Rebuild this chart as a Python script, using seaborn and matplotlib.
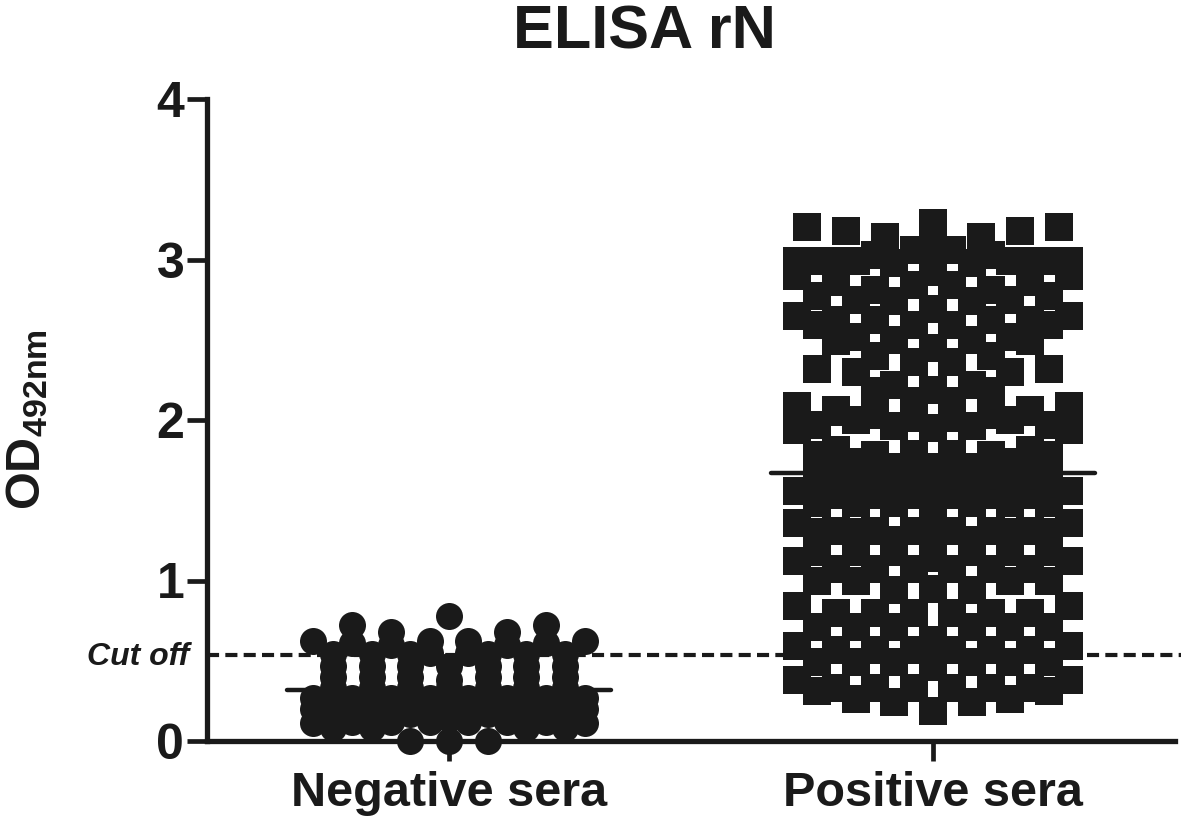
import matplotlib
matplotlib.use('AGG')
import matplotlib.pyplot as plt
import seaborn as sns
import numpy as np
import pandas as pd

groups = ['Negative sera', 'Positive sera']
cut_off = 0.535
group_means = [0.32, 1.67]

# each row lists values from the middle of the row outwards, mirrored when drawn
neg_rows_odd = [
    [0.78, 0.54, 0.54, 0.54],
    [0.47, 0.47, 0.47, 0.47],
    [0.38, 0.40, 0.40, 0.40],
    [0.33, 0.33, 0.33, 0.33],
    [0.26, 0.26, 0.26, 0.26],
    [0.14, 0.17, 0.17, 0.17],
    [0.00, 0.00, 0.08, 0.08],
]
neg_rows_even = [
    [0.62, 0.68, 0.72, 0.62],
    [0.55, 0.60, 0.61, np.nan],
    [0.27, 0.27, 0.27, 0.27],
    [0.20, 0.20, 0.20, 0.20],
    [0.12, 0.12, 0.12, 0.11],
]
pos_top_row = [3.23, 3.14, 3.18, 3.20]
pos_rows_odd = [
    [3.07, 2.98, 2.99, 2.99],
    [2.92, 2.74, 2.75, 2.77],
    [2.69, 2.50, 2.52, 2.59],
    [2.45, 2.22, 2.30, 2.32],
    [2.19, 1.96, 2.00, 1.97],
    [1.95, 1.71, 1.74, 1.78],
    [1.71, 1.66, 1.69, 1.69],
    [1.56, 1.58, 1.58, 1.58],
    [1.44, 1.48, 1.48, 1.48],
    [1.31, 1.25, 1.30, 1.30],
    [1.14, 1.18, 1.18, 1.18],
    [0.95, 0.94, 1.00, 1.00],
    [0.63, 0.71, 0.71, 0.71],
    [0.46, 0.49, 0.49, 0.49],
    [0.19, 0.24, 0.26, 0.31],
]
pos_rows_even = [
    [3.06, 3.03, 2.99, 2.99],
    [2.84, 2.81, 2.86, 2.90],
    [2.59, 2.62, 2.62, 2.65],
    [2.36, 2.40, 2.49, np.nan],
    [2.12, 2.18, 2.06, 2.09],
    [2.01, 2.03, 2.05, 1.94],
    [1.79, 1.78, 1.81, np.nan],
    [1.69, 1.69, 1.69, np.nan],
    [1.53, 1.53, 1.53, 1.56],
    [1.31, 1.31, 1.31, 1.36],
    [1.07, 1.07, 1.07, 1.12],
    [0.80, 0.80, 0.80, 0.84],
    [0.57, 0.57, 0.57, 0.59],
    [0.33, 0.33, 0.33, 0.38],
]

INK = '#1a1a1a'
STEP = 0.02  # sideways spread of one slot, in category units


def spread(rows, center, slots, group):
    out = []
    for row in rows:
        for val, slot in zip(row, slots):
            for sign in ([1] if slot == 0 else [-1, 1]):
                out.append({'group': group, 'x': center + sign * slot * STEP, 'od': val})
    return out


records = []
records += spread(neg_rows_odd, 0, [0, 4, 8, 12], groups[0])
records += spread(neg_rows_even, 0, [2, 6, 10, 14], groups[0])
records += spread([pos_top_row], 1, [0, 5, 9, 13], groups[1])
records += spread(pos_rows_odd, 1, [0, 4, 8, 12], groups[1])
records += spread(pos_rows_even, 1, [2, 6, 10, 14], groups[1])
df = pd.DataFrame(records).dropna()

sns.set_style('ticks')
plt.rcParams['font.family'] = ['Liberation Sans', 'DejaVu Sans']
plt.rcParams['mathtext.fontset'] = 'custom'
plt.rcParams['mathtext.bf'] = 'Liberation Sans:bold'
plt.rcParams['mathtext.rm'] = 'Liberation Sans:bold'

fig = plt.figure(figsize=(11.81, 8.18), dpi=100)
ax = fig.add_axes([207 / 1181, 1 - 741 / 818, (1175 - 207) / 1181, (741 - 99) / 818])

ax.plot([-0.5, 1.52], [cut_off, cut_off], color=INK, lw=3, dashes=(2.9, 1.5), clip_on=False)

sns.scatterplot(data=df[df.group == groups[0]], x='x', y='od', marker='o', s=378,
                color=INK, linewidth=0, clip_on=False, zorder=3, ax=ax)
sns.scatterplot(data=df[df.group == groups[1]], x='x', y='od', marker='s', s=400,
                color=INK, linewidth=0, clip_on=False, zorder=3, ax=ax)

for i, m in enumerate(group_means):
    ax.plot([i - 0.335, i + 0.335], [m, m], color=INK, lw=3.2,
            solid_capstyle='round', zorder=4)

ax.set_xlim(-0.5, 1.5)
ax.set_ylim(0, 4)
ax.set_xticks([0, 1])
ax.set_xticklabels(groups)
ax.set_yticks([0, 1, 2, 3, 4])
ax.set_xlabel('')
ax.set_ylabel('')
ax.tick_params(axis='both', length=14.4, width=3.4, color=INK, labelcolor=INK)
ax.tick_params(axis='y', labelsize=36, pad=2)
ax.tick_params(axis='x', labelsize=35, pad=7)
for lab in ax.get_xticklabels() + ax.get_yticklabels():
    lab.set_fontweight('bold')
sns.despine(ax=ax)
for side in ['left', 'bottom']:
    ax.spines[side].set_linewidth(3.8)
    ax.spines[side].set_color(INK)

fig.text(644 / 1181, 1 - 33 / 818, 'ELISA rN', fontsize=44, fontweight='bold', color=INK,
         ha='center', va='center')
fig.text(27 / 1181, 1 - 420 / 818, r'$\mathbf{OD_{492nm}}$', fontsize=35, color=INK,
         rotation=90, ha='center', va='center')
fig.text(138 / 1181, 1 - 657 / 818, 'Cut off', fontsize=23, fontweight='bold', style='italic',
         color=INK, ha='center', va='center')

fig.savefig('out.png', dpi=100)
